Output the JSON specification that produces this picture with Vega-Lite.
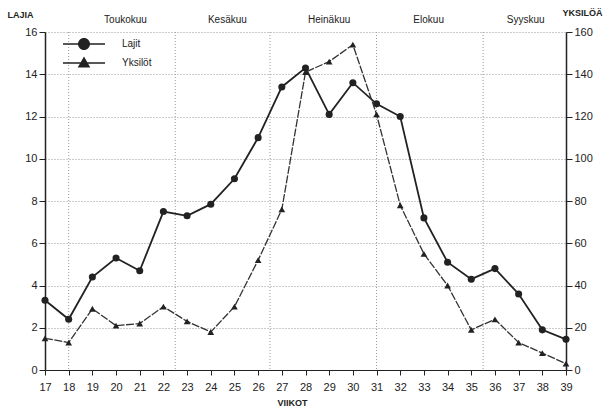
{
  "$schema": "https://vega.github.io/schema/vega-lite/v6.json",
  "autosize": {"type": "none"},
  "padding": {"left": 45, "top": 32, "right": 46, "bottom": 39},
  "width": 521,
  "height": 338,
  "background": "white",
  "config": {
    "font": "Liberation Sans",
    "view": {"stroke": null},
    "axis": {"labelColor": "#222", "titleColor": "#222", "labelFontSize": 11, "domainColor": "#222", "tickColor": "#222"}
  },
  "datasets": {
    "weeks": [
      {"viikko": 17, "lajit": 3.3, "yksilot": 15},
      {"viikko": 18, "lajit": 2.4, "yksilot": 13},
      {"viikko": 19, "lajit": 4.4, "yksilot": 29},
      {"viikko": 20, "lajit": 5.3, "yksilot": 21},
      {"viikko": 21, "lajit": 4.7, "yksilot": 22},
      {"viikko": 22, "lajit": 7.5, "yksilot": 30},
      {"viikko": 23, "lajit": 7.3, "yksilot": 23},
      {"viikko": 24, "lajit": 7.85, "yksilot": 18},
      {"viikko": 25, "lajit": 9.05, "yksilot": 30},
      {"viikko": 26, "lajit": 11, "yksilot": 52},
      {"viikko": 27, "lajit": 13.4, "yksilot": 76},
      {"viikko": 28, "lajit": 14.3, "yksilot": 141},
      {"viikko": 29, "lajit": 12.1, "yksilot": 146},
      {"viikko": 30, "lajit": 13.6, "yksilot": 154},
      {"viikko": 31, "lajit": 12.6, "yksilot": 121},
      {"viikko": 32, "lajit": 12, "yksilot": 78},
      {"viikko": 33, "lajit": 7.2, "yksilot": 55},
      {"viikko": 34, "lajit": 5.1, "yksilot": 40},
      {"viikko": 35, "lajit": 4.3, "yksilot": 19},
      {"viikko": 36, "lajit": 4.8, "yksilot": 24},
      {"viikko": 37, "lajit": 3.6, "yksilot": 13},
      {"viikko": 38, "lajit": 1.9, "yksilot": 8},
      {"viikko": 39, "lajit": 1.45, "yksilot": 3}
    ],
    "months": [
      {"kuukausi": "Toukokuu", "viikko": 20.4},
      {"kuukausi": "Kesäkuu", "viikko": 24.7},
      {"kuukausi": "Heinäkuu", "viikko": 29.0},
      {"kuukausi": "Elokuu", "viikko": 33.2},
      {"kuukausi": "Syyskuu", "viikko": 37.3}
    ],
    "bounds": [
      {"viikko": 18}, {"viikko": 22.5}, {"viikko": 26.5}, {"viikko": 31}, {"viikko": 35.5}
    ],
    "series": [
      {"sarja": "Lajit", "viikko": 17}, {"sarja": "Yksilöt", "viikko": 17}
    ]
  },
  "encoding": {
    "x": {"field": "viikko", "type": "quantitative",
      "scale": {"domain": [17, 39], "nice": false, "zero": false},
      "axis": {"title": "VIIKOT", "values": [17,18,19,20,21,22,23,24,25,26,27,28,29,30,31,32,33,34,35,36,37,38,39], "labelOverlap": false, "labelFlush": false, "labelSeparation": 0, "grid": false, "tickSize": 5, "labelPadding": 6, "titleFontSize": 9, "titleFontWeight": "bold", "titlePadding": 6, "titleX": 247}}
  },
  "layer": [
    {
      "layer": [
        {
          "data": {"name": "bounds"},
          "mark": {"type": "rule", "color": "#999", "strokeDash": [1, 2], "strokeWidth": 1},
          "encoding": {}
        },
        {
          "data": {"name": "months"},
          "mark": {"type": "text", "fontSize": 10, "color": "#222", "dy": -12},
          "encoding": {
            "y": {"datum": 16, "type": "quantitative"},
            "text": {"field": "kuukausi"}
          }
        },
        {
          "data": {"name": "series"},
          "mark": {"type": "point", "filled": true, "color": "#222", "opacity": 0},
          "encoding": {
            "y": {"datum": 0, "type": "quantitative"},
            "shape": {"field": "sarja", "type": "nominal",
              "scale": {"domain": ["Lajit", "Yksilöt"], "range": ["M-3.5,-0.12H3.5V0.12H-3.5Z M1,0A1,1,0,1,1,-1,0A1,1,0,1,1,1,0Z", "M-3.5,-0.12H3.5V0.12H-3.5Z M0,-1.1L1.05,0.75H-1.05Z"]},
              "legend": {
                "title": null, "orient": "none", "legendX": 33, "legendY": 6,
                "symbolSize": 144, "symbolFillColor": "#222", "symbolStrokeWidth": 0, "symbolOpacity": 1,
                "labelOffset": 32, "labelFontSize": 10, "labelColor": "#222", "rowPadding": 6, "padding": 0
              }}
          }
        },
        {
          "data": {"name": "weeks"},
          "mark": {"type": "line", "color": "#222", "strokeWidth": 1.8},
          "encoding": {
            "y": {"field": "lajit", "type": "quantitative",
              "scale": {"domain": [0, 16], "nice": false},
              "axis": {"title": "LAJIA", "orient": "left", "values": [0,2,4,6,8,10,12,14,16], "tickSize": 6, "labelPadding": 2, "domainWidth": 1.5, "grid": true, "gridColor": "#999", "gridDash": [1, 2], "titleAngle": 0, "titleAlign": "left", "titleBaseline": "alphabetic", "titleX": -38, "titleY": -15, "titleFontSize": 9, "titleFontWeight": "bold"}}
          }
        },
        {
          "data": {"name": "weeks"},
          "mark": {"type": "point", "filled": true, "color": "#222", "size": 50, "opacity": 1, "shape": "circle"},
          "encoding": {
            "y": {"field": "lajit", "type": "quantitative"}
          }
        }
      ]
    },
    {
      "data": {"name": "weeks"},
      "layer": [
        {
          "mark": {"type": "line", "color": "#333", "strokeWidth": 1.3, "strokeDash": [8, 1.5]},
          "encoding": {
            "y": {"field": "yksilot", "type": "quantitative",
              "scale": {"domain": [0, 160], "nice": false},
              "axis": {"title": "YKSILÖÄ", "orient": "right", "values": [0,20,40,60,80,100,120,140,160], "tickSize": 6, "labelPadding": 2, "domainWidth": 1.5, "grid": false, "titleAngle": 0, "titleAlign": "left", "titleBaseline": "alphabetic", "titleX": -4, "titleY": -17, "titleFontSize": 9, "titleFontWeight": "bold"}}
          }
        },
        {
          "mark": {"type": "point", "filled": true, "color": "#222", "size": 45, "opacity": 1, "shape": "triangle-up"},
          "encoding": {
            "y": {"field": "yksilot", "type": "quantitative"}
          }
        }
      ]
    }
  ],
  "resolve": {"scale": {"y": "independent"}}
}
